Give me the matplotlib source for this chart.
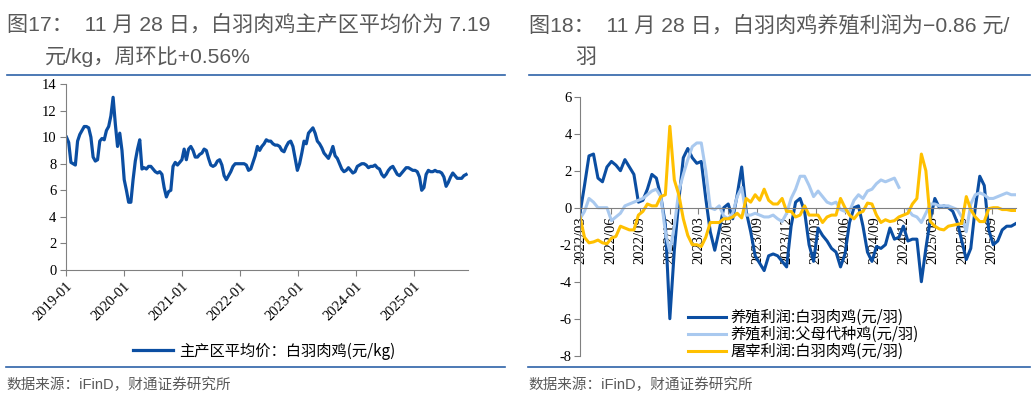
import pandas as pd
import numpy as np
import matplotlib
matplotlib.use('Agg')
import matplotlib.pyplot as plt
from matplotlib.lines import Line2D

plt.rcParams['font.family'] = ['Liberation Serif', 'Noto Sans CJK SC']
plt.rcParams['axes.unicode_minus'] = False

# ---- Daten ----
# Grafik 17: Durchschnittspreis weiße Broiler (Yuan/kg), 14-Tage-Raster
price_dates = pd.date_range(end='2025-11-28', periods=181, freq='14D')
price = [
    10.0, 9.6, 8.1, 8.0, 7.9, 9.7, 10.2, 10.5, 10.8, 10.8,
    10.7, 10.0, 8.5, 8.2, 8.3, 9.7, 9.9, 9.8, 10.5, 10.8,
    11.6, 13.0, 11.0, 9.3, 10.3, 9.0, 6.8, 6.0, 5.1, 5.1,
    6.8, 8.2, 9.1, 9.8, 7.6, 7.7, 7.6, 7.8, 7.8, 7.6,
    7.4, 7.3, 7.4, 7.2, 6.2, 5.5, 5.9, 6.0, 7.8, 8.1,
    7.9, 8.1, 8.3, 9.1, 8.3, 9.1, 9.3, 9.0, 8.5, 8.5,
    8.7, 8.8, 9.1, 9.0, 8.4, 7.9, 7.8, 7.9, 8.2, 8.3,
    7.9, 7.1, 6.8, 7.1, 7.4, 7.8, 8.0, 8.0, 8.0, 8.0,
    8.0, 7.9, 7.5, 7.6, 8.1, 8.6, 9.3, 9.0, 9.3, 9.5,
    9.8, 9.7, 9.7, 9.5, 9.4, 9.4, 9.3, 9.0, 8.9, 9.3,
    9.6, 9.7, 9.3, 8.4, 7.5, 8.0, 8.8, 9.7, 9.5, 10.3,
    10.5, 10.7, 10.3, 9.7, 9.5, 9.2, 8.8, 8.6, 8.4, 8.8,
    9.3, 8.6, 8.4, 8.0, 7.6, 7.4, 7.5, 7.7, 7.5, 7.3,
    7.4, 7.8, 7.9, 8.0, 8.0, 7.9, 7.7, 7.8, 7.8, 7.9,
    7.7, 7.6, 7.2, 7.0, 7.2, 7.5, 7.7, 7.8, 7.5, 7.2,
    7.1, 7.3, 7.5, 7.7, 7.7, 7.6, 7.5, 7.5, 7.4, 7.0,
    6.0, 6.2, 7.2, 7.5, 7.4, 7.4, 7.5, 7.4, 7.4, 7.3,
    7.0, 6.3, 6.6, 7.0, 7.3, 7.1, 6.9, 6.9, 6.9, 7.1,
    7.19,
]
price_label = '主产区平均价：白羽肉鸡(元/kg)'
price_ticks = ['2019-01', '2020-01', '2021-01', '2022-01', '2023-01', '2024-01', '2025-01']

# Grafik 18: Gewinne (Yuan/Stück)
profit_dates = pd.date_range('2022-03-11', '2025-11-28', freq='14D')
broiler_profit = [
    -0.3, 1.2, 2.8, 2.9, 1.6, 1.4, 2.2, 2.5, 2.3, 2.0,
    2.6, 2.2, 1.8, 0.3, 0.4, 1.0, 1.8, 1.6, 0.6, -0.9,
    -6.0, -2.3, 0.4, 2.7, 3.2, 2.7, 2.4, 2.5, 0.5, -1.3,
    -2.3, -1.2, 0.0, 0.2, -0.6, 0.7, 2.2, -0.2, -1.3, -2.6,
    -3.0, -3.4, -2.6, -2.5, -2.6, -2.9, -3.2, -1.0, 0.3, 0.5,
    -0.2, -2.0, -2.9, -1.1, -1.5, -1.8, -2.2, -2.4, -3.2, -2.5,
    -0.8, 0.0, 0.1, -1.0, -2.4, -2.9, -2.1, -2.2, -2.0, -1.1,
    -1.7, -1.6, -1.0, -1.8, -1.7, -1.7, -4.0, -2.2, -0.6, 0.5,
    0.0, 0.1, 0.0, -0.2, -0.8, -1.8, -2.8, -2.2, 0.0, 1.7,
    1.2, -1.2, -2.0, -1.8, -1.2, -1.0, -1.0, -0.86,
]
parent_profit = [
    -0.6, -0.2, 0.5, 0.3, 0.0, 0.0, 0.0, -0.7, -0.5, -0.3,
    0.1, 0.2, 0.3, 0.4, 0.5, 0.7, 0.9, 1.0, 0.6, -1.3,
    -2.4, -1.0, 0.9, 1.8, 2.6, 3.3, 3.5, 3.5, 2.0, 0.0,
    -0.1, 0.1, -0.45, -0.6, -0.3, 0.6, 1.1, -0.4, -0.4, -0.3,
    -0.4, -0.5, -0.5, -0.4, -0.6, -0.75, -0.3, 0.5, 1.0, 1.7,
    1.7, 1.2, 0.6, 0.9, 0.6, 0.3, 0.2, 0.3, -0.1, -0.2,
    -0.2, 0.4, 0.7, 0.5, 0.9, 1.0, 1.3, 1.5, 1.4, 1.5,
    1.6, 1.1, np.nan, -0.1, -0.4, -0.5, -0.8, -0.3, 0.2, 0.2,
    0.1, 0.1, 0.1, 0.0, -0.1, -0.5, -1.3, 0.2, 0.7, 0.8,
    0.7, 0.5, 0.5, 0.6, 0.7, 0.8, 0.7, 0.7,
]
slaughter_profit = [
    -0.5, -1.6, -1.9, -1.85, -1.75, -1.9, -1.95, -1.65, -1.55, -1.0,
    -1.1, -1.2, -1.2, -0.4, -0.2, 0.2, 0.1, 0.1, 0.6, 0.7,
    4.4, 1.5, 0.7, -0.6, -1.5, -2.0, -2.0, -2.1, -1.6, -0.8,
    -0.8, -0.8, -0.6, -0.6, -0.5, -0.3, -0.55, 0.5, 0.3, 0.7,
    0.4, 1.0, 0.4, 0.2, 0.2, 0.5, -0.2, -0.2, -0.5, -0.4,
    0.1, -0.4, -0.4, -0.4, -0.8, -0.5, -0.4, -0.4, 0.5, 0.0,
    -0.4, -0.6, -0.3, -0.2, 0.25, 0.2, -0.4, -0.8, -0.65, -0.75,
    -0.7, -0.5, -0.4, -0.3, 0.2, 0.5, 2.9, 2.0, -0.75, -1.0,
    -1.15, -1.2, -1.0, -0.95, -0.9, -0.85, 0.6, -0.1, -0.5, -0.75,
    -0.75, -0.05, 0.0, 0.0, -0.1, -0.1, -0.15, -0.15,
]
profit_labels = ['养殖利润:白羽肉鸡(元/羽)', '养殖利润:父母代种鸡(元/羽)', '屠宰利润:白羽肉鸡(元/羽)']
profit_ticks = ['2022-03-15', '2022-06-15', '2022-09-15', '2022-12-15', '2023-03-15',
                '2023-06-15', '2023-09-15', '2023-12-15', '2024-03-15', '2024-06-15',
                '2024-09-15', '2024-12-15', '2025-03-15', '2025-06-15', '2025-09-15']

# ---- Farben ----
dunkelblau = '#0b4ea2'
hellblau = '#a9c9ef'
gelb = '#ffc000'
grau = '#808080'
titel_farbe = '#595959'
linie_farbe = '#2e62a8'

sans = ['Liberation Sans', 'Noto Sans CJK SC']
cjk = ['Noto Sans CJK SC', 'Liberation Serif']

fig = plt.figure(figsize=(10.32, 3.97), dpi=100)
W, H = 1032, 397

def fx(px):
    return px / W

def fy(py):
    return 1 - py / H

# Titel
fig.text(fx(7), fy(25), '图17：  11 月 28 日，白羽肉鸡主产区平均价为 7.19', family=sans,
         fontsize=15.2, color=titel_farbe, va='center')
fig.text(fx(45), fy(57), '元/kg，周环比+0.56%', family=sans, fontsize=15.2, color=titel_farbe, va='center')
fig.text(fx(529), fy(25), '图18：  11 月 28 日，白羽肉鸡养殖利润为−0.86 元/', family=sans,
         fontsize=15.2, color=titel_farbe, va='center')
fig.text(fx(575), fy(57), '羽', family=sans, fontsize=15.2, color=titel_farbe, va='center')

# Trennlinien
for x0, x1 in [(7, 505), (529, 1030)]:
    fig.add_artist(Line2D([fx(x0), fx(x1)], [fy(75), fy(75)], color=linie_farbe, lw=1.2))
    fig.add_artist(Line2D([fx(x0 - 1), fx(x1)], [fy(367), fy(367)], color=linie_farbe, lw=1.2))

# Quellen
fig.text(fx(6), fy(385), '数据来源：iFinD，财通证券研究所', family=sans, fontsize=10.5,
         color=titel_farbe, va='center')
fig.text(fx(528), fy(385), '数据来源：iFinD，财通证券研究所', family=sans, fontsize=10.5,
         color=titel_farbe, va='center')

# ---- Grafik 17 ----
ax1 = fig.add_axes([fx(66), fy(270), fx(468) - fx(66), fy(84) - fy(270)])
ax1.plot(price_dates, price, color=dunkelblau, lw=2.3, label=price_label)
ax1.set_ylim(0, 14)
ax1.set_yticks(range(0, 15, 2))
ax1.set_xlim(pd.Timestamp('2019-01-01'), pd.Timestamp('2025-12-10'))
ax1.set_xticks([pd.Timestamp(t + '-01') for t in price_ticks])
ax1.set_xticklabels(price_ticks, rotation=45, ha='right', rotation_mode='anchor')
for s in ['top', 'right']:
    ax1.spines[s].set_visible(False)
for s in ['left', 'bottom']:
    ax1.spines[s].set_color(grau)
ax1.tick_params(axis='both', color=grau, length=4, labelsize=10.5, pad=3)
ax1.legend(loc='center', bbox_to_anchor=(fx(264), fy(351)), bbox_transform=fig.transFigure,
           frameon=False, prop={'family': cjk, 'size': 11}, handlelength=2.6, handletextpad=0.4)

# ---- Grafik 18 ----
ax2 = fig.add_axes([fx(580), fy(355.7), fx(1015.7) - fx(580), fy(96.7) - fy(355.7)])
ax2.plot(profit_dates, broiler_profit, color=dunkelblau, lw=2.2, label=profit_labels[0])
ax2.plot(profit_dates, parent_profit, color=hellblau, lw=2.2, label=profit_labels[1])
ax2.plot(profit_dates, slaughter_profit, color=gelb, lw=2.2, label=profit_labels[2])
ax2.set_ylim(-8, 6)
ax2.set_yticks(range(-8, 7, 2))
ax2.set_xlim(profit_dates[0], profit_dates[-1])
ax2.spines['bottom'].set_position(('data', 0))
for s in ['top', 'right']:
    ax2.spines[s].set_visible(False)
for s in ['left', 'bottom']:
    ax2.spines[s].set_color(grau)
ax2.set_xticks([pd.Timestamp(t) for t in profit_ticks])
ax2.set_xticklabels([t[:7].replace('-', '/') for t in profit_ticks], rotation=90, va='top', ha='center')
ax2.tick_params(axis='both', color=grau, length=4, labelsize=10.5, pad=2)
ax2.legend(loc='center left', bbox_to_anchor=(fx(680), fy(334.5)), bbox_transform=fig.transFigure,
           frameon=False, prop={'family': cjk, 'size': 11}, handlelength=2.5, handletextpad=0.3,
           borderpad=0, labelspacing=0.0)

fig.savefig('out.png', dpi=100)
